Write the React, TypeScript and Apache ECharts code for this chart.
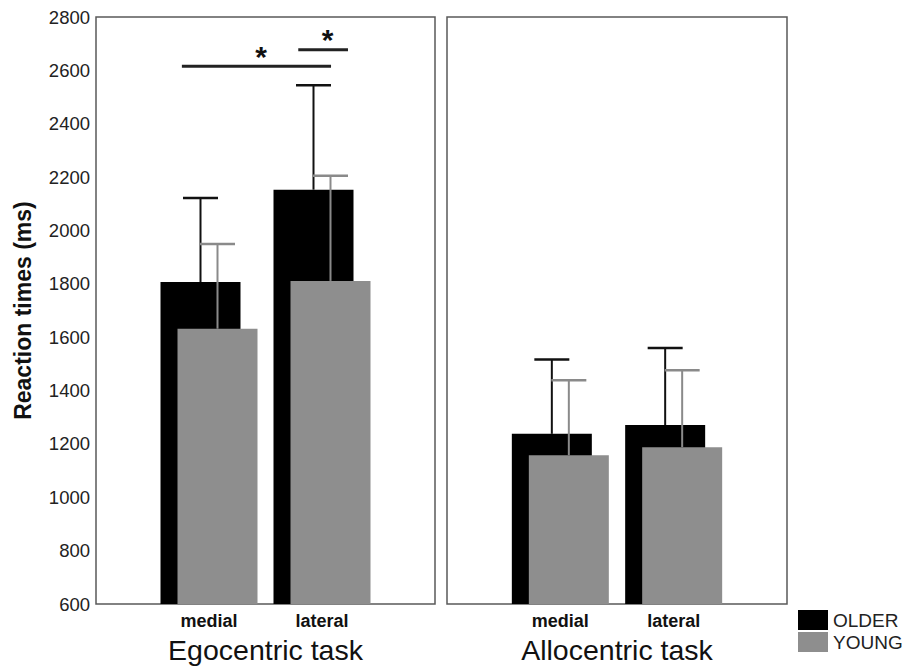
import React, { useEffect, useRef } from "react";
import * as echarts from "echarts";

const categories = ["medial", "lateral"];
const tasks = ["Egocentric task", "Allocentric task"];
const groups = ["OLDER", "YOUNG"];

const egoOlder = [1807, 2153];
const egoYoung = [1632, 1811];
const alloOlder = [1238, 1271];
const alloYoung = [1158, 1188];

const egoOlderErr = [315, 391];
const egoYoungErr = [317, 394];
const alloOlderErr = [279, 289];
const alloYoungErr = [281, 288];

const yMin = 600;
const yMax = 2800;
const yStep = 200;

// significance brackets in the egocentric panel (x in category-index units, 0 = left edge)
const sigFrom = [0.76, 1.79];
const sigTo = [2.08, 2.23];
const sigY = [2615, 2677];
const sigLabel = ["*", "*"];

const FONT = "'Liberation Sans', Arial, Helvetica, sans-serif";
const BLACK = "#000000";
const GRAY = "#8e8e8e";

const axisCats = ["", ...categories, ""];
const pad = (arr: number[]) => ["-", ...arr, "-"];

function errSeries(name: string, idx: number, means: number[], errs: number[], color: string, offset: number, lw: number) {
  return {
    type: "custom",
    name,
    xAxisIndex: idx,
    yAxisIndex: idx,
    z: 5,
    data: means.map((m, i) => [i + 1, m, errs[i]]),
    encode: { x: 0, y: 1 },
    renderItem: (params: any, api: any) => {
      const x = api.value(0);
      const m = api.value(1);
      const e = api.value(2);
      const p0 = api.coord([x, m]);
      const p1 = api.coord([x, m + e]);
      const cx = p0[0] + offset;
      const half = 17.5;
      return {
        type: "group",
        children: [
          { type: "line", shape: { x1: cx, y1: p0[1], x2: cx, y2: p1[1] }, style: { stroke: color, lineWidth: lw } },
          { type: "line", shape: { x1: cx - half, y1: p1[1], x2: cx + half, y2: p1[1] }, style: { stroke: color, lineWidth: lw + 0.5 } },
        ],
      };
    },
  };
}

export default function App() {
  const ref = useRef<HTMLDivElement>(null);
  useEffect(() => {
    document.body.style.margin = "0";
    const chart = echarts.init(ref.current!, null, { renderer: "svg" });
    const grids = [
      { left: 96, right: 474, top: 17, bottom: 61 },
      { left: 447, right: 122, top: 17, bottom: 61 },
    ].map((g) => ({ ...g, show: true, borderColor: "#5a5a5a", borderWidth: 1.5, backgroundColor: "transparent" }));

    const xAxes = tasks.map((t, i) => ({
      type: "category",
      gridIndex: i,
      data: axisCats,
      boundaryGap: false,
      axisLine: { show: false },
      axisTick: { show: false },
      splitLine: { show: false },
      axisLabel: { fontFamily: FONT, fontSize: 18, fontWeight: "bold", color: "#111", margin: 8 },
      name: t,
      nameLocation: "middle",
      nameGap: 30,
      nameTextStyle: { fontFamily: FONT, fontSize: 28.5, color: "#111" },
    }));

    const yAxes = tasks.map((t, i) => ({
      type: "value",
      gridIndex: i,
      min: yMin,
      max: yMax,
      interval: yStep,
      axisLine: { show: false },
      axisTick: { show: false },
      splitLine: { show: false },
      axisLabel: { show: i === 0, fontFamily: FONT, fontSize: 18.5, color: "#222", margin: 6, formatter: (v: number) => String(v) },
      name: i === 0 ? "Reaction times (ms)" : "",
      nameLocation: "middle",
      nameGap: 62,
      nameTextStyle: { fontFamily: FONT, fontSize: 23, fontWeight: "bold", color: "#111" },
    }));

    const barBase = { type: "bar", barWidth: 80, barGap: "-78.75%" };
    const series: any[] = [
      { ...barBase, name: groups[0], xAxisIndex: 0, yAxisIndex: 0, data: pad(egoOlder), itemStyle: { color: BLACK } },
      { ...barBase, name: groups[1], xAxisIndex: 0, yAxisIndex: 0, data: pad(egoYoung), itemStyle: { color: GRAY } },
      { ...barBase, name: groups[0], xAxisIndex: 1, yAxisIndex: 1, data: pad(alloOlder), itemStyle: { color: BLACK } },
      { ...barBase, name: groups[1], xAxisIndex: 1, yAxisIndex: 1, data: pad(alloYoung), itemStyle: { color: GRAY } },
      errSeries("olderErrEgo", 0, egoOlder, egoOlderErr, "#111", -8.5, 2),
      errSeries("youngErrEgo", 0, egoYoung, egoYoungErr, "#8a8a8a", 8.5, 2),
      errSeries("olderErrAllo", 1, alloOlder, alloOlderErr, "#111", -8.5, 2),
      errSeries("youngErrAllo", 1, alloYoung, alloYoungErr, "#8a8a8a", 8.5, 2),
      {
        type: "custom",
        name: "sig",
        xAxisIndex: 0,
        yAxisIndex: 0,
        z: 6,
        data: sigY.map((y) => [1, y]),
        encode: { x: 0, y: 1 },
        renderItem: (params: any, api: any) => {
          const k = params.dataIndex;
          const y = sigY[k];
          const c0 = api.coord([0, y]);
          const c1 = api.coord([1, y]);
          const step = c1[0] - c0[0];
          const x1 = c0[0] + sigFrom[k] * step;
          const x2 = c0[0] + sigTo[k] * step;
          const mid = (x1 + x2) / 2 + 0.04 * step;
          return {
            type: "group",
            children: [
              { type: "line", shape: { x1, y1: c0[1], x2, y2: c0[1] }, style: { stroke: "#222", lineWidth: 3 } },
              {
                type: "text",
                x: mid,
                y: c0[1] - 10,
                style: { text: sigLabel[k], fontFamily: FONT, fontSize: 30, fontWeight: "bold", fill: "#111", align: "center", verticalAlign: "middle" },
              },
            ],
          };
        },
      },
    ];

    chart.setOption({
      animation: false,
      backgroundColor: "#ffffff",
      textStyle: { fontFamily: FONT },
      grid: grids,
      xAxis: xAxes,
      yAxis: yAxes,
      legend: {
        data: groups,
        orient: "vertical",
        left: 798,
        top: 610,
        padding: 0,
        itemWidth: 30,
        itemHeight: 20,
        itemGap: 2,
        icon: "rect",
        textStyle: { fontFamily: FONT, fontSize: 19, color: "#222", lineHeight: 20, padding: [0, 0, 0, 0] },
      },
      series,
    });
    return () => chart.dispose();
  }, []);
  return <div ref={ref} style={{ width: 909, height: 669 }} />;
}
